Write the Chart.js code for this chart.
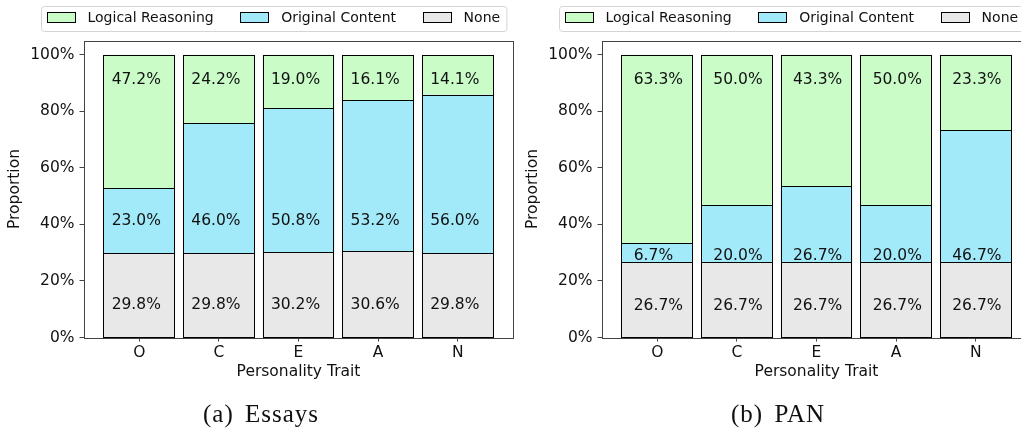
<!DOCTYPE html>
<html>
<head>
<meta charset="utf-8">
<script src="https://cdn.jsdelivr.net/npm/chart.js@4.4.0/dist/chart.umd.min.js"></script>
<style>
html, body { margin: 0; padding: 0; width: 1021px; height: 431px; overflow: hidden; background: #fff; }
.panel { position: absolute; top: 0; width: 520px; height: 431px; }
.cap { position: absolute; font-family: 'Liberation Serif', serif; font-size: 25px; line-height: 25px;
       letter-spacing: 1px; word-spacing: 4px; color: #111; white-space: nowrap; }
</style>
</head>
<body>
<div class="panel" style="left:0px"><canvas id="essays" width="520" height="431"></canvas></div>
<div class="panel" style="left:518px"><canvas id="pan" width="520" height="431"></canvas></div>
<div class="cap" style="left:203px; top:401px">(a) Essays</div>
<div class="cap" style="left:731px; top:401px">(b) PAN</div>
<script>
// categories and series
var traits = ['O', 'C', 'E', 'A', 'N'];
var seriesNames = ['None', 'Original Content', 'Logical Reasoning'];
var yTicks = [0, 20, 40, 60, 80, 100];

// (a) Essays
var essaysNone = [29.8, 29.8, 30.2, 30.6, 29.8];
var essaysOriginal = [23.0, 46.0, 50.8, 53.2, 56.0];
var essaysLogical = [47.2, 24.2, 19.0, 16.1, 14.1];

// (b) PAN - the drawn logical segments fill up to 100%, printed labels are lower
var panNone = [26.7, 26.7, 26.7, 26.7, 26.7];
var panOriginal = [6.7, 20.0, 26.7, 20.0, 46.7];
var panLogical = [66.6, 53.3, 46.6, 53.3, 26.6];
var panLogicalShown = [63.3, 50.0, 43.3, 50.0, 23.3];

var seriesColors = ['#e8e8e8', '#a2e9f9', '#c9fcc7'];
var spineColor = '#444';
var font = 'DejaVu Sans';

Chart.defaults.font.family = font;
Chart.defaults.color = '#111';
Chart.defaults.animation = false;

// crisp black edges round every bar segment, taken from the bar elements
var outlinePlugin = {
	id: 'outline',
	afterDatasetsDraw: function (chart) {
		var ctx = chart.ctx;
		ctx.save();
		ctx.strokeStyle = '#000';
		ctx.lineWidth = 1;
		chart.data.datasets.forEach(function (ds, d) {
			chart.getDatasetMeta(d).data.forEach(function (el) {
				var p = el.getProps(['x', 'y', 'base', 'width'], true);
				var l = Math.round(p.x - p.width / 2) + 0.5;
				var r = Math.round(p.x + p.width / 2) - 0.5;
				var t = Math.round(Math.min(p.y, p.base)) + 0.5;
				var b = Math.round(Math.max(p.y, p.base)) + 0.5;
				ctx.strokeRect(l, t, r - l, b - t);
			});
		});
		ctx.restore();
	}
};

// box round the plot, like matplotlib spines
var framePlugin = {
	id: 'frame',
	afterDatasetsDraw: function (chart) {
		var a = chart.chartArea, ctx = chart.ctx;
		ctx.save();
		ctx.strokeStyle = spineColor;
		ctx.lineWidth = 1;
		ctx.strokeRect(Math.round(a.left) + 0.5, Math.round(a.top) + 0.5,
			Math.round(a.right - a.left) - 1, Math.round(a.bottom - a.top));
		ctx.restore();
	}
};

// percentage text inside the bars
var barTextPlugin = {
	id: 'barText',
	afterDatasetsDraw: function (chart, args, opts) {
		var ctx = chart.ctx;
		var xs = chart.scales.x, ys = chart.scales.y;
		ctx.save();
		ctx.font = '15.5px "' + font + '"';
		ctx.fillStyle = '#111';
		ctx.textAlign = 'left';
		ctx.textBaseline = 'alphabetic';
		opts.texts.forEach(function (vals, d) {
			vals.forEach(function (v, i) {
				var x = xs.getPixelForValue(i) + opts.dx;
				var y = ys.getPixelForValue(opts.labelY[d]) + 0.365 * 15.5;
				ctx.fillText(v.toFixed(1) + '%', x, y);
			});
		});
		ctx.restore();
	}
};

// framed legend at the top left
var legendPlugin = {
	id: 'boxLegend',
	afterDraw: function (chart) {
		var ctx = chart.ctx;
		var order = [2, 1, 0];
		ctx.save();
		ctx.font = '14px "' + font + '"';
		var left = 41, top = 6.5, h = 25;
		var x = left + 5.5;
		var items = order.map(function (d) {
			var it = { d: d, x: x, w: ctx.measureText(seriesNames[d]).width };
			x += 41 + it.w + 26.5;
			return it;
		});
		var last = items[items.length - 1];
		var right = last.x + 41 + last.w + 6.3;
		ctx.beginPath();
		ctx.roundRect(left + 0.5, top, right - left, h, 3);
		ctx.fillStyle = 'rgba(255,255,255,0.8)';
		ctx.fill();
		ctx.strokeStyle = '#d4d4d4';
		ctx.lineWidth = 1;
		ctx.stroke();
		items.forEach(function (it) {
			var sx = Math.round(it.x);
			ctx.fillStyle = seriesColors[it.d];
			ctx.fillRect(sx, 12.5, 28, 10);
			ctx.strokeStyle = '#000';
			ctx.strokeRect(sx + 0.5, 12.5, 28, 10);
			ctx.fillStyle = '#111';
			ctx.fillText(seriesNames[it.d], it.x + 41, 22.3);
		});
		ctx.restore();
	}
};

function drawPanel(canvasId, none, original, logical, texts, labelY, dx) {
	var ctx = document.getElementById(canvasId).getContext('2d');
	var values = [none, original, logical];
	var datasets = values.map(function (vals, d) {
		return {
			label: seriesNames[d],
			data: vals.map(function (v, i) { return { x: i, y: v }; }),
			backgroundColor: seriesColors[d],
			borderWidth: 0,
			barPercentage: 0.9,
			categoryPercentage: 1.0
		};
	});
	return new Chart(ctx, {
		type: 'bar',
		data: { datasets: datasets },
		plugins: [outlinePlugin, framePlugin, barTextPlugin, legendPlugin],
		options: {
			responsive: false,
			layout: { padding: { top: 40.5, right: 6.5, bottom: 49.3, left: 0 } },
			plugins: {
				legend: { display: false },
				tooltip: { enabled: false },
				barText: { texts: texts, labelY: labelY, dx: dx }
			},
			scales: {
				x: {
					type: 'linear',
					stacked: true,
					offset: false,
					min: -0.7,
					max: 4.7,
					afterBuildTicks: function (scale) {
						scale.ticks = traits.map(function (t, i) { return { value: i }; });
					},
					afterFit: function (scale) { scale.height = 44.2; },
					ticks: {
						padding: 2,
						font: { size: 15.5 },
						color: '#111',
						callback: function (v) { return traits[v]; }
					},
					grid: { offset: false, drawOnChartArea: false, drawTicks: true, tickLength: 4, color: spineColor },
					border: { display: false },
					title: { display: true, text: 'Personality Trait', font: { size: 15.5 }, color: '#111', padding: 0 }
				},
				y: {
					stacked: true,
					min: 0,
					max: 105,
					afterBuildTicks: function (scale) {
						scale.ticks = yTicks.map(function (v) { return { value: v }; });
					},
					afterFit: function (scale) { scale.width = 83.5; },
					ticks: {
						padding: 5,
						font: { size: 15.5 },
						color: '#111',
						callback: function (v) { return v + '%'; }
					},
					grid: { drawOnChartArea: false, drawTicks: true, tickLength: 4, color: spineColor },
					border: { display: false },
					title: { display: true, text: 'Proportion', font: { size: 15.5 }, color: '#111', padding: { top: 5.4, bottom: 0 } }
				}
			}
		}
	});
}

drawPanel('essays', essaysNone, essaysOriginal, essaysLogical,
	[essaysNone, essaysOriginal, essaysLogical], [12.0, 41.7, 91.7], -27.6);
drawPanel('pan', panNone, panOriginal, panLogical,
	[panNone, panOriginal, panLogicalShown], [11.7, 29.3, 91.7], -23.5);
</script>
</body>
</html>
